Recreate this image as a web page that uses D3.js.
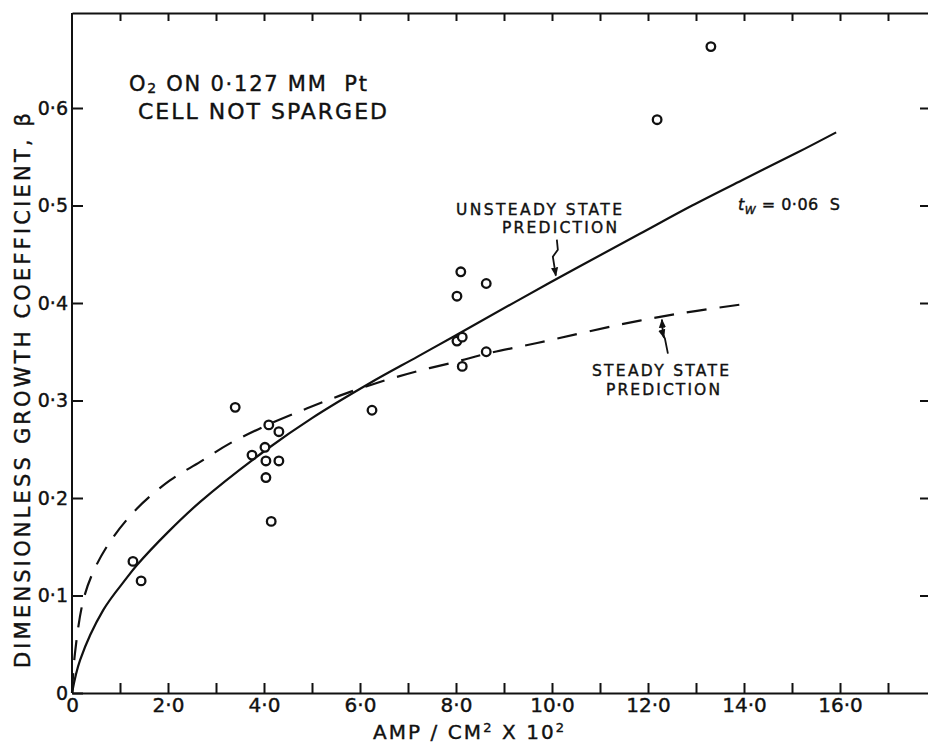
<!DOCTYPE html>
<html>
<head>
<meta charset="utf-8">
<script src="https://cdn.jsdelivr.net/npm/d3@7"></script>
<style>
  body { margin: 0; background: #fff; }
  svg { display: block; }
  text { font-family: "DejaVu Sans", sans-serif; fill: #111; stroke: #111; stroke-width: 0.4px; white-space: pre; }
  .axis path, .axis line { stroke: #111; stroke-width: 2; }
</style>
</head>
<body>
<svg id="chart" width="928" height="743"></svg>
<script>
// tick values and labels
const xTicks = [0, 2, 4, 6, 8, 10, 12, 14, 16]
const xTickLabels = ["0", "2·0", "4·0", "6·0", "8·0", "10·0", "12·0", "14·0", "16·0"]
const xMinorTicks = [0, 1, 2, 3, 4, 5, 6, 7, 8, 9, 10, 11, 12, 13, 14, 15, 16, 17]
const yTicks = [0, 0.1, 0.2, 0.3, 0.4, 0.5, 0.6]
const yTickLabels = ["0", "0·1", "0·2", "0·3", "0·4", "0·5", "0·6"]

// measured points (amp/cm2 x 10^2, beta)
const measX = [1.27, 1.44, 3.40, 3.75, 4.02, 4.04, 4.04, 4.10, 4.15, 4.31, 4.31, 6.25,
               8.02, 8.02, 8.10, 8.13, 8.13, 8.63, 8.63, 12.19, 13.31]
const measY = [0.135, 0.115, 0.293, 0.244, 0.252, 0.238, 0.221, 0.275, 0.176, 0.268, 0.238, 0.290,
               0.407, 0.361, 0.432, 0.365, 0.335, 0.420, 0.350, 0.588, 0.663]

// unsteady state prediction (solid)
const unsteadyX = [0, 0.17, 0.65, 1.14, 1.35, 2.0, 2.67, 4.06, 5.0, 6.21, 7.2, 8.0, 9.96, 11.83, 12.92, 14.0, 15.1, 15.92]
const unsteadyY = [0, 0.034, 0.085, 0.118, 0.131, 0.165, 0.196, 0.250, 0.282, 0.318, 0.345, 0.367, 0.421, 0.471, 0.500, 0.527, 0.554, 0.575]

// steady state prediction (dashed)
const steadyX = [0, 0.06, 0.23, 0.44, 0.79, 1.35, 2.04, 2.67, 3.29, 4.12, 4.9, 5.58, 6.35, 7.19, 8.02, 8.64, 9.69, 11.83, 13.02, 14.17]
const steadyY = [0, 0.040, 0.094, 0.124, 0.155, 0.189, 0.218, 0.237, 0.256, 0.276, 0.292, 0.305, 0.318, 0.330, 0.340, 0.348, 0.359, 0.382, 0.392, 0.400]

const svg = d3.select("#chart")

const plotLeft = 72, plotRight = 936, plotBottom = 693, plotTop = 10.5, frameTop = 13
const x = d3.scaleLinear().domain([0, 18]).range([plotLeft, plotRight])
const y = d3.scaleLinear().domain([0, 0.7]).range([plotBottom, plotTop])

svg.append("defs").append("marker")
  .attr("id", "arrow")
  .attr("viewBox", "0 0 10 10")
  .attr("refX", 9).attr("refY", 5)
  .attr("markerWidth", 9).attr("markerHeight", 9)
  .attr("markerUnits", "userSpaceOnUse")
  .attr("orient", "auto")
  .append("path")
  .attr("d", "M0,1 L10,5 L0,9 Z")
  .attr("fill", "#111")

/* frame: bottom, top, left, right */
const labelFor = (vals, labels) => d => {
  const i = vals.indexOf(d)
  return i >= 0 ? labels[i] : ""
}

svg.append("g")
  .attr("class", "axis")
  .attr("transform", "translate(0," + plotBottom + ")")
  .call(d3.axisBottom(x)
    .tickValues(xMinorTicks)
    .tickSizeInner(-10).tickSizeOuter(0)
    .tickPadding(5)
    .tickFormat(labelFor(xTicks, xTickLabels)))
  .call(g => g.selectAll("text").style("font-size", "20px").attr("fill", "#111"))

svg.append("g")
  .attr("class", "axis")
  .attr("transform", "translate(0," + frameTop + ")")
  .call(d3.axisTop(x)
    .tickValues(xMinorTicks.slice(1))
    .tickSizeInner(-8).tickSizeOuter(0)
    .tickFormat(""))

svg.append("g")
  .attr("class", "axis")
  .attr("transform", "translate(" + plotLeft + ",0)")
  .call(d3.axisLeft(y)
    .tickValues(yTicks)
    .tickSizeInner(-11).tickSizeOuter(0)
    .tickPadding(4)
    .tickFormat(labelFor(yTicks, yTickLabels)))
  .call(g => g.select(".domain").attr("d", "M0," + plotBottom + "V" + frameTop))
  .call(g => g.selectAll("text").style("font-size", "19px").attr("fill", "#111"))

svg.append("g")
  .attr("class", "axis")
  .attr("transform", "translate(929,0)")
  .call(d3.axisRight(y)
    .tickValues(yTicks.slice(1))
    .tickSizeInner(-9).tickSizeOuter(0)
    .tickFormat(""))
  .call(g => g.select(".domain").remove())

/* curves */
const line = d3.line()
  .x(d => x(d[0]))
  .y(d => y(d[1]))
  .curve(d3.curveCatmullRom.alpha(0.5))

svg.append("path")
  .datum(unsteadyX.map((v, i) => [v, unsteadyY[i]]))
  .attr("fill", "none")
  .attr("stroke", "#111")
  .attr("stroke-width", 2.2)
  .attr("d", line)

svg.append("path")
  .datum(steadyX.map((v, i) => [v, steadyY[i]]))
  .attr("fill", "none")
  .attr("stroke", "#111")
  .attr("stroke-width", 2.2)
  .attr("stroke-dasharray", "20,13")
  .attr("d", line)

/* measured points */
svg.append("g")
  .selectAll("circle")
  .data(measX.map((v, i) => [v, measY[i]]))
  .enter().append("circle")
  .attr("cx", d => x(d[0]))
  .attr("cy", d => y(d[1]))
  .attr("r", 4.3)
  .attr("fill", "#fff")
  .attr("stroke", "#111")
  .attr("stroke-width", 2.3)

/* annotation arrows */
const ux = x(10.08), uy = y(0.427)
svg.append("path")
  .attr("d", "M" + (ux + 1) + "," + (uy - 37) + " l1,10 l-5,7 l3,19")
  .attr("fill", "none")
  .attr("stroke", "#111")
  .attr("stroke-width", 1.8)
  .attr("marker-end", "url(#arrow)")

const sx = x(12.29), sy = y(0.384)
svg.append("path")
  .attr("d", "M" + (sx + 6) + "," + (sy + 35) + " l-3,-15 l-2,-4 l-1,-15")
  .attr("fill", "none")
  .attr("stroke", "#111")
  .attr("stroke-width", 1.8)
  .attr("marker-end", "url(#arrow)")
svg.append("path")
  .attr("d", "M" + (sx) + "," + (sy + 12) + " l2,7")
  .attr("fill", "none")
  .attr("stroke", "#111")
  .attr("stroke-width", 1.8)
  .attr("marker-end", "url(#arrow)")

/* text */
const t1 = svg.append("text").attr("x", 129).attr("y", 91).style("font-size", "21px")
  .attr("textLength", 238).attr("lengthAdjust", "spacing")
t1.append("tspan").text("O")
t1.append("tspan").text("2").style("font-size", "14px").attr("dy", 2)
t1.append("tspan").text(" ON 0·127 MM  Pt").attr("dy", -2)

svg.append("text").attr("x", 138).attr("y", 119).style("font-size", "22px")
  .attr("textLength", 249).attr("lengthAdjust", "spacing")
  .text("CELL NOT SPARGED")

svg.append("text").attr("x", 456).attr("y", 215).style("font-size", "15.5px")
  .attr("textLength", 166).attr("lengthAdjust", "spacing")
  .text("UNSTEADY STATE")
svg.append("text").attr("x", 502).attr("y", 233).style("font-size", "15.5px")
  .attr("textLength", 115).attr("lengthAdjust", "spacing")
  .text("PREDICTION")

svg.append("text").attr("x", 592).attr("y", 376).style("font-size", "15.5px")
  .attr("textLength", 137).attr("lengthAdjust", "spacing")
  .text("STEADY STATE")
svg.append("text").attr("x", 606).attr("y", 395).style("font-size", "15.5px")
  .attr("textLength", 114).attr("lengthAdjust", "spacing")
  .text("PREDICTION")

const tw = svg.append("text").attr("x", 738).attr("y", 210).style("font-size", "16px")
  .attr("textLength", 102).attr("lengthAdjust", "spacing")
tw.append("tspan").text("t").style("font-style", "italic")
tw.append("tspan").text("W").style("font-size", "11px").style("font-style", "italic").attr("dy", 4)
tw.append("tspan").text(" = 0·06  S").attr("dy", -4)

const xl = svg.append("text").attr("x", 373).attr("y", 739).style("font-size", "20px")
  .attr("textLength", 191).attr("lengthAdjust", "spacing")
xl.append("tspan").text("AMP / CM")
xl.append("tspan").text("2").style("font-size", "13px").attr("dy", -7)
xl.append("tspan").text(" X 10").attr("dy", 7)
xl.append("tspan").text("2").style("font-size", "13px").attr("dy", -7)

svg.append("text")
  .attr("transform", "translate(30,668) rotate(-90)")
  .style("font-size", "21px")
  .attr("textLength", 555).attr("lengthAdjust", "spacing")
  .text("DIMENSIONLESS GROWTH COEFFICIENT, β")
</script>
</body>
</html>
